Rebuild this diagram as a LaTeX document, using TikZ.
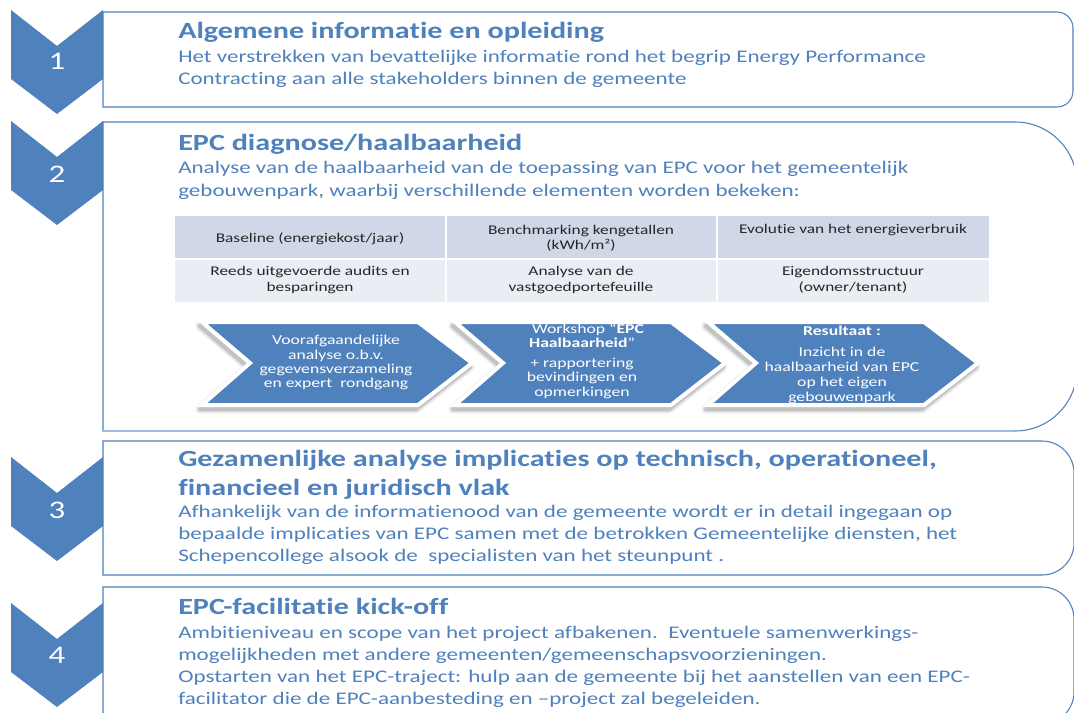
\documentclass[tikz,border=0pt]{standalone}
\usepackage{fontspec}
\setmainfont[FakeStretch=1.3,Ligatures=NoCommon]{Carlito}
\definecolor{epcblue}{RGB}{79,129,189}
\definecolor{lightline}{RGB}{160,188,222}
\definecolor{hdrfill}{RGB}{208,216,232}
\definecolor{rowfill}{RGB}{233,237,244}
\definecolor{celltxt}{RGB}{38,38,38}
\newcommand\rbox[4]{% top, bottom, radius, right edge
  \draw[boxline] (103,#1) -- ({#4-#3},#1)
    .. controls ({#4-0.448*#3},#1) and (#4,{#1+0.448*#3}) .. (#4,{#1+#3})
    -- (#4,{#2-#3})
    .. controls (#4,{#2-0.448*#3}) and ({#4-0.448*#3},#2) .. ({#4-#3},#2)
    -- (103,#2) -- cycle;}
\newcommand\chevron[1]{%
  \fill[epcblue] (11,#1) -- (57,{#1+36}) -- (103,#1) -- (103,{#1+69})
    -- (57,{#1+104}) -- (11,{#1+69}) -- cycle;}
\tikzset{
  boxline/.style={draw=epcblue, line width=0.8pt},
  num/.style={text=white, font=\fontsize{19}{19}\selectfont, anchor=base, inner sep=0pt},
  ttl/.style={text=epcblue, font=\fontsize{17.4}{17.4}\selectfont\bfseries, anchor=base west, inner sep=0pt},
  body/.style={text=epcblue, font=\fontsize{13.3}{13.3}\selectfont, anchor=base west, inner sep=0pt},
  celltext/.style={text=celltxt, font=\fontsize{10}{10}\selectfont, anchor=base, inner sep=0pt},
  arrtext/.style={text=white, font=\fontsize{10.2}{10.2}\selectfont, anchor=base, inner sep=0pt},
  procarrow/.pic={
    \foreach \w/\o in {7pt/0.05,5pt/0.08,3pt/0.12}{
      \draw[black, opacity=\o, line width=\w, line join=round]
        (-2,326) -- (214,326) -- (268,367) -- (214,409) -- (-2,409) -- (46,367) -- cycle;}
    \draw[white, line width=3pt, line join=miter, fill=epcblue]
      (0,322) -- (216,322) -- (270,363) -- (216,405) -- (0,405) -- (48,363) -- cycle;
  }
}
\begin{document}
\begin{tikzpicture}[x=0.75pt,y=-0.75pt]
\useasboundingbox (0,0) rectangle (1074,713);
\begin{scope}
\clip (0,0) rectangle (1074,713);
\fill[white] (0,0) rectangle (1074,713);
% boxes
\rbox{12}{107}{16}{1073}
\rbox{122}{431}{62}{1077}
\draw[lightline, line width=1.5pt] (103,431) -- (1015,431);
\rbox{441}{575}{32}{1074}
\rbox{587}{724}{32}{1074}
% chevrons
\chevron{10}
\chevron{121}
\chevron{457}
\chevron{603}
\node[num] (n1) at (57,70) {1};
\node[num] (n2) at (57,182) {2};
\node[num] (n3) at (57,518) {3};
\node[num] (n4) at (57,663) {4};
% box 1
\node[ttl] (t1) at (178,39) {Algemene informatie en opleiding};
\node[body] (b1a) at (178,63) {Het verstrekken van bevattelijke informatie rond het begrip Energy Performance};
\node[body] (b1b) at (178,85) {Contracting aan alle stakeholders binnen de gemeente};
% box 2
\node[ttl] (t2) at (178,151) {EPC diagnose/haalbaarheid};
\node[body] (b2a) at (178,174) {Analyse van de haalbaarheid van de toepassing van EPC voor het gemeentelijk};
\node[body] (b2b) at (178,196) {gebouwenpark, waarbij verschillende elementen worden bekeken:};
% table
\fill[hdrfill] (175,216) rectangle (445,258);
\fill[hdrfill] (447,216) rectangle (716,258);
\fill[hdrfill] (718,216) rectangle (989,258);
\fill[rowfill] (175,260) rectangle (445,302);
\fill[rowfill] (447,260) rectangle (716,302);
\fill[rowfill] (718,260) rectangle (989,302);
\node[celltext] (c11) at (310,242) {Baseline (energiekost/jaar)};
\node[celltext] (c12a) at (581,234) {Benchmarking kengetallen};
\node[celltext] (c12b) at (581,249) {(kWh/m²)};
\node[celltext] (c13) at (853,233) {Evolutie van het energieverbruik};
\node[celltext] (c21a) at (310,275) {Reeds uitgevoerde audits en};
\node[celltext] (c21b) at (310,291) {besparingen};
\node[celltext] (c22a) at (581,275) {Analyse van de};
\node[celltext] (c22b) at (581,291) {vastgoedportefeuille};
\node[celltext] (c23a) at (853,275) {Eigendomsstructuur};
\node[celltext] (c23b) at (853,291) {(owner/tenant)};
% process arrows
\pic at (202,0) {procarrow};
\pic at (455,0) {procarrow};
\pic at (708,0) {procarrow};
\node[arrtext] (a1a) at (336,344) {Voorafgaandelijke};
\node[arrtext] (a1b) at (336,359) {analyse o.b.v.};
\node[arrtext] (a1c) at (336,373) {gegevensverzameling};
\node[arrtext] (a1d) at (336,387) {en expert\ \ rondgang};
\node[arrtext] (a2a) at (588,333) {Workshop “\textbf{EPC}};
\node[arrtext] (a2b) at (582,347) {\textbf{Haalbaarheid}”};
\node[arrtext] (a2c) at (582,367) {+ rapportering};
\node[arrtext] (a2d) at (582,381) {bevindingen en};
\node[arrtext] (a2e) at (582,396) {opmerkingen};
\node[arrtext] (a3a) at (842,335) {\textbf{Resultaat :}};
\node[arrtext] (a3b) at (842,356) {Inzicht in de};
\node[arrtext] (a3c) at (842,371) {haalbaarheid van EPC};
\node[arrtext] (a3d) at (842,386) {op het eigen};
\node[arrtext] (a3e) at (842,401) {gebouwenpark};
% box 3
\node[ttl] (t3a) at (178,466) {Gezamenlijke analyse implicaties op technisch, operationeel,};
\node[ttl] (t3b) at (178,495) {financieel en juridisch vlak};
\node[body] (b3a) at (178,517) {Afhankelijk van de informatienood van de gemeente wordt er in detail ingegaan op};
\node[body] (b3b) at (178,539) {bepaalde implicaties van EPC samen met de betrokken Gemeentelijke diensten, het};
\node[body] (b3c) at (178,561) {Schepencollege alsook de\ \ specialisten van het steunpunt .};
% box 4
\node[ttl] (t4) at (178,614) {EPC-facilitatie kick-off};
\node[body] (b4a) at (178,638) {Ambitieniveau en scope van het project afbakenen.\ \ Eventuele samenwerkings-};
\node[body] (b4b) at (178,660) {mogelijkheden met andere gemeenten/gemeenschapsvoorzieningen.};
\node[body] (b4c) at (178,682) {Opstarten van het EPC-traject: hulp aan de gemeente bij het aanstellen van een EPC-};
\node[body] (b4d) at (178,704) {facilitator die de EPC-aanbesteding en –project zal begeleiden.};
\end{scope}
\end{tikzpicture}
\end{document}
